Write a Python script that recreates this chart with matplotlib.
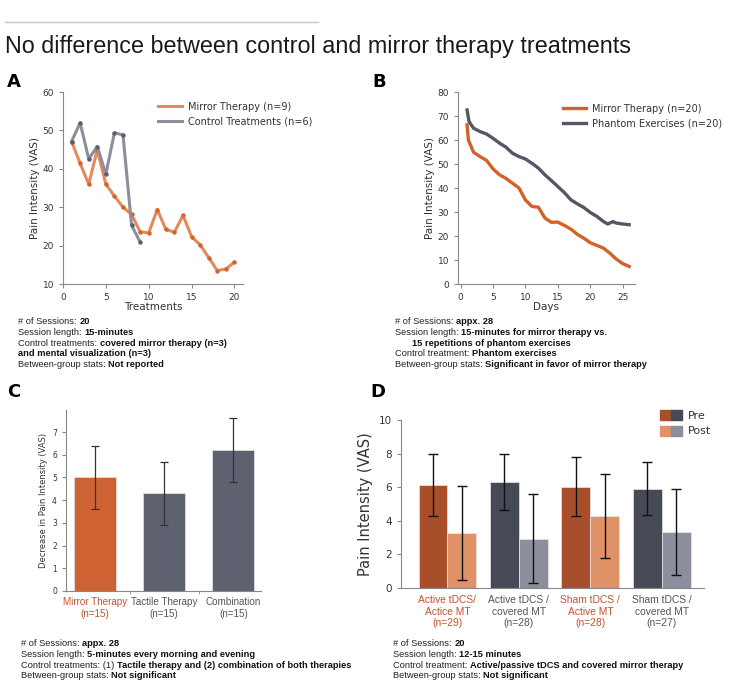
import matplotlib
matplotlib.use('Agg')
import numpy as np
import matplotlib.pyplot as plt
from matplotlib.patches import Patch
from matplotlib.legend_handler import HandlerTuple

W, H = 737, 697

# panel A: pain vs treatment number
a_x_mt = list(range(1, 21))
a_mt = [47.1, 41.4, 36.0, 44.9, 36.0, 32.9, 30.0, 28.1, 23.6, 23.3,
        29.4, 24.2, 23.5, 27.9, 22.3, 20.2, 16.9, 13.5, 13.9, 15.7]
a_x_ctrl = list(range(1, 10))
a_ctrl = [47.1, 52.0, 42.6, 45.8, 38.6, 49.4, 48.8, 25.3, 20.9]

# panel B: pain over days
b_days = [1, 1.2, 2, 3, 4, 5, 6, 7, 8, 9, 10, 11, 12, 13, 14, 15, 16, 17, 18,
          19, 20, 21, 22, 23, 24, 25, 26]
b_mt = [66.3, 60.0, 54.9, 53.1, 51.5, 48.0, 45.5, 44.0, 42.0, 40.0, 35.0, 32.3,
        32.0, 27.5, 25.7, 25.8, 24.4, 22.9, 20.7, 19.1, 17.2, 16.1, 15.0, 12.9,
        10.4, 8.5, 7.3]
b_days_ph = [1, 1.3, 2, 3, 4, 5, 6, 7, 8, 9, 10, 11, 12, 13, 14, 15, 16, 17, 18,
             19, 20, 21, 22, 22.7, 23.5, 24, 25, 26]
b_ph = [72.5, 67.7, 64.9, 63.5, 62.5, 60.7, 58.7, 57.0, 54.5, 53.1, 52.1, 50.3,
        48.3, 45.5, 43.1, 40.6, 38.1, 35.1, 33.4, 31.9, 29.8, 28.2, 26.1, 25.0,
        26.0, 25.4, 25.0, 24.7]

# panel C: decrease in pain
c_labels = ["Mirror Therapy\n(n=15)", "Tactile Therapy\n(n=15)", "Combination\n(n=15)"]
c_vals = [5.0, 4.3, 6.2]
c_err = [1.4, 1.4, 1.4]

# panel D: pre / post pain
d_labels = ["Active tDCS/\nActice MT\n(n=29)", "Active tDCS /\ncovered MT\n(n=28)",
            "Sham tDCS /\nActive MT\n(n=28)", "Sham tDCS /\ncovered MT\n(n=27)"]
d_pre = [6.14, 6.30, 6.04, 5.92]
d_pre_err = [1.86, 1.67, 1.74, 1.57]
d_post = [3.28, 2.94, 4.29, 3.34]
d_post_err = [2.80, 2.65, 2.52, 2.57]
d_is_mt = [True, False, True, False]

ORANGE_L, ORANGE_M = '#E38B5C', '#D2652F'
GRAY_L, GRAY_M = '#8C8F9B', '#5B5F6D'
B_OR, B_GR = '#D4602A', '#545866'
C_OR, C_GR = '#CF6232', '#5E6170'
LBL_OR, LBL_GR = '#C0532F', '#555555'
PRE_MT, POST_MT, PRE_CV, POST_CV = '#A94E2B', '#DF9168', '#464A56', '#8B8E9D'
SPINE = '#888888'
TXT = '#333333'


def axes_px(fig, l, t, r, b):
    return fig.add_axes([l / W, 1 - b / H, (r - l) / W, (b - t) / H])


def style(ax, size=6.5):
    for s in ['top', 'right']:
        ax.spines[s].set_visible(False)
    for s in ['left', 'bottom']:
        ax.spines[s].set_color(SPINE)
        ax.spines[s].set_linewidth(0.8)
    ax.tick_params(colors=SPINE, labelcolor=TXT, labelsize=size, length=3, width=0.8)


def info(fig, x, y, lines, step=10.8, size=6.7):
    for i, (norm, bold, indent) in enumerate(lines):
        yy = 1 - (y + i * step) / H
        xx = (x + indent) / W
        if norm:
            t = fig.text(xx, yy, norm, fontsize=size, family='Liberation Sans',
                         color='#222222', va='baseline')
            plt.annotate(bold, xy=(1, 0), xycoords=t, fontsize=size,
                         family='Liberation Sans', weight='bold',
                         color='#111111', va='bottom', ha='left',
                         annotation_clip=False)
        else:
            fig.text(xx, yy, bold, fontsize=size, family='Liberation Sans',
                     weight='bold', color='#111111', va='baseline')


fig = plt.figure(figsize=(W / 100, H / 100), dpi=100)

fig.add_artist(plt.Line2D([5 / W, 318 / W], [1 - 22 / H, 1 - 22 / H],
                          color='#c8c8c8', lw=1))
fig.text(5 / W, 1 - 46 / H, "No difference between control and mirror therapy treatments",
         fontsize=16.8, family='Liberation Sans', color='#1a1a1a', va='center')

for lab, x, y in [('A', 7, 82), ('B', 372, 82), ('C', 7, 392), ('D', 370, 392)]:
    fig.text(x / W, 1 - y / H, lab, fontsize=13, weight='bold', va='center')

# ---- A
ax = axes_px(fig, 63, 92, 243, 284)
ax.plot(a_x_mt, a_mt, color=ORANGE_L, lw=2.2, solid_joinstyle='round', label='Mirror Therapy (n=9)')
ax.plot(a_x_mt, a_mt, 'o', color=ORANGE_M, ms=2.2)
ax.plot(a_x_ctrl, a_ctrl, color=GRAY_L, lw=2.2, solid_joinstyle='round', label='Control Treatments (n=6)')
ax.plot(a_x_ctrl, a_ctrl, 'o', color=GRAY_M, ms=2.2)
ax.set_xlim(0, 21)
ax.set_ylim(10, 60)
ax.set_xticks([0, 5, 10, 15, 20])
ax.set_yticks([10, 20, 30, 40, 50, 60])
style(ax)
ax.set_xlabel('Treatments', fontsize=7.5, color=TXT, labelpad=0)
ax.set_ylabel('Pain Intensity (VAS)', fontsize=7.5, color=TXT, labelpad=2)
ax.legend(loc='upper left', bbox_to_anchor=(0.53, 0.95), frameon=False, fontsize=7,
          borderaxespad=0, borderpad=0, handlelength=2.4, handletextpad=0.6,
          labelspacing=0.5, labelcolor=TXT)

# ---- B
ax = axes_px(fig, 458, 92, 635, 284)
ax.plot(b_days, b_mt, color=B_OR, lw=2.4, label='Mirror Therapy (n=20)')
ax.plot(b_days_ph, b_ph, color=B_GR, lw=2.4, label='Phantom Exercises (n=20)')
ax.set_xlim(-0.4, 26.9)
ax.set_ylim(0, 80)
ax.set_xticks([0, 5, 10, 15, 20, 25])
ax.set_yticks(range(0, 81, 10))
style(ax)
ax.set_xlabel('Days', fontsize=7.5, color=TXT, labelpad=0)
ax.set_ylabel('Pain Intensity (VAS)', fontsize=7.5, color=TXT, labelpad=2)
ax.legend(loc='upper left', bbox_to_anchor=(0.593, 0.94), frameon=False, fontsize=7,
          borderaxespad=0, borderpad=0, handlelength=2.4, handletextpad=0.6,
          labelspacing=0.5, labelcolor=TXT)

# ---- C
ax = axes_px(fig, 66, 410, 261, 591)
xc = np.arange(len(c_vals))
ax.bar(xc, c_vals, width=0.61, color=[C_OR, C_GR, C_GR], edgecolor='#dddddd', lw=0.6)
ax.errorbar(xc, c_vals, yerr=c_err, fmt='none', ecolor='#333333', elinewidth=0.9,
            capsize=3, capthick=0.9)
ax.set_xlim(-0.42, 2.4)
ax.set_ylim(0, 7.97)
ax.set_yticks(range(8))
style(ax, 5.5)
ax.set_xticks(xc)
ax.set_xticklabels(c_labels, fontsize=7.1, family='Liberation Sans', linespacing=1.3)
ax.set_xticks([0.5, 1.5], minor=True)
ax.tick_params(axis='x', which='major', length=0, pad=4)
ax.tick_params(axis='x', which='minor', length=2, color=SPINE)
for t, m in zip(ax.get_xticklabels(), [True, False, False]):
    t.set_color(LBL_OR if m else LBL_GR)
ax.set_ylabel('Decrease in Pain Intensity (VAS)', fontsize=6, color=TXT, labelpad=3)

# ---- D
ax = axes_px(fig, 401, 420, 704, 588)
xd = np.arange(len(d_pre))
bw = 0.405
pre_c = [PRE_MT if m else PRE_CV for m in d_is_mt]
post_c = [POST_MT if m else POST_CV for m in d_is_mt]
ax.bar(xd - bw / 2, d_pre, width=bw, color=pre_c, edgecolor='#e8e8e8', lw=0.5)
ax.bar(xd + bw / 2, d_post, width=bw, color=post_c, edgecolor='#e8e8e8', lw=0.5)
ax.errorbar(xd - bw / 2, d_pre, yerr=d_pre_err, fmt='none', ecolor='#111111',
            elinewidth=1, capsize=3.5, capthick=1)
ax.errorbar(xd + bw / 2, d_post, yerr=d_post_err, fmt='none', ecolor='#111111',
            elinewidth=1, capsize=3.5, capthick=1)
ax.set_xlim(-0.65, 3.59)
ax.set_ylim(0, 10)
ax.set_yticks(range(0, 11, 2))
style(ax, 7.5)
ax.set_xticks(xd)
ax.set_xticklabels(d_labels, fontsize=7.4, family='Liberation Sans', linespacing=1.2)
ax.tick_params(axis='x', length=0, pad=5)
for t, m in zip(ax.get_xticklabels(), d_is_mt):
    t.set_color(LBL_OR if m else LBL_GR)
ax.set_ylabel('Pain Intensity (VAS)', fontsize=10.5, color=TXT, labelpad=4)
h_pre = (Patch(color=PRE_MT), Patch(color=PRE_CV))
h_post = (Patch(color=POST_MT), Patch(color=POST_CV))
ax.legend([h_pre, h_post], ['Pre', 'Post'], handler_map={tuple: HandlerTuple(ndivide=None, pad=0)},
          loc='upper left', bbox_to_anchor=(0.855, 1.06), frameon=False, fontsize=8,
          borderaxespad=0, borderpad=0, handlelength=2.0, handleheight=1.0,
          handletextpad=0.5, labelspacing=0.45, labelcolor=TXT)

info(fig, 18, 324, [("# of Sessions: ", "20", 0),
                    ("Session length: ", "15-minutes", 0),
                    ("Control treatments: ", "covered mirror therapy (n=3)", 0),
                    ("", "and mental visualization (n=3)", 0),
                    ("Between-group stats: ", "Not reported", 0)])
info(fig, 395, 324, [("# of Sessions: ", "appx. 28", 0),
                     ("Session length: ", "15-minutes for mirror therapy vs.", 0),
                     ("", "15 repetitions of phantom exercises", 17),
                     ("Control treatment: ", "Phantom exercises", 0),
                     ("Between-group stats: ", "Significant in favor of mirror therapy", 0)])
info(fig, 21, 646, [("# of Sessions: ", "appx. 28", 0),
                    ("Session length: ", "5-minutes every morning and evening", 0),
                    ("Control treatments: (1) ", "Tactile therapy and (2) combination of both therapies", 0),
                    ("Between-group stats: ", "Not significant", 0)])
info(fig, 393, 646, [("# of Sessions: ", "20", 0),
                     ("Session length: ", "12-15 minutes", 0),
                     ("Control treatment: ", "Active/passive tDCS and covered mirror therapy", 0),
                     ("Between-group stats: ", "Not significant", 0)])

fig.savefig('out.png', dpi=100)
